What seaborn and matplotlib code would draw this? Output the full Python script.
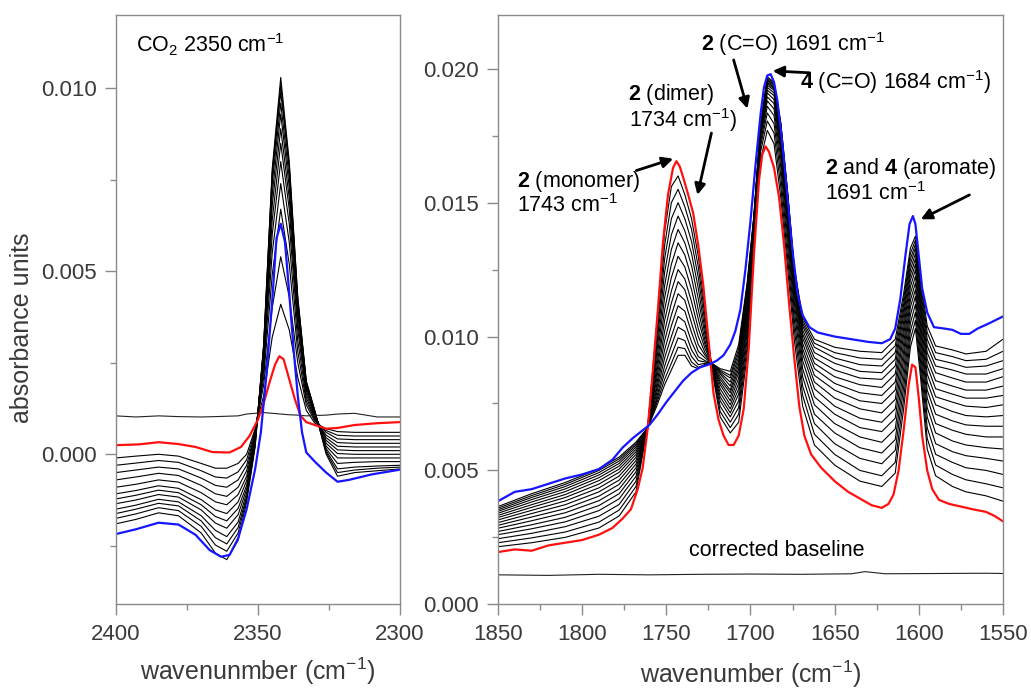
import numpy as np
import pandas as pd
import matplotlib
matplotlib.use("Agg")
import matplotlib.pyplot as plt
import seaborn as sns
from matplotlib.ticker import MultipleLocator, FormatStrFormatter

# ---------------- data (absorbance in units of 1e-3) ----------------
MILLI = 1e-3

# Left panel: CO2 region
left_wn = [2400, 2393, 2385, 2378, 2370, 2365, 2361, 2357, 2354, 2351, 2348,
           2345, 2342, 2339, 2336, 2333, 2330, 2326, 2322, 2316, 2308, 2300]
left_red_wn = [2400, 2392, 2385, 2378, 2372, 2366, 2360, 2356, 2353, 2350, 2348, 2346,
               2344, 2342.5, 2341, 2339, 2337, 2335, 2333, 2330, 2326, 2322, 2316, 2308, 2300]
left_red = [0.25, 0.27, 0.33, 0.28, 0.20, 0.06, 0.05, 0.20, 0.50, 0.95, 1.40, 1.95,
            2.45, 2.68, 2.60, 2.05, 1.50, 1.05, 0.88, 0.80, 0.70, 0.72, 0.80, 0.85, 0.88]
left_blue_wn = [2400, 2393, 2385, 2378, 2372, 2367, 2363, 2360, 2357, 2354, 2351, 2349,
                2347, 2345, 2343.5, 2342, 2340.5, 2339, 2337.5, 2336, 2334.5, 2333, 2330,
                2326, 2322, 2318, 2310, 2300]
left_blue = [-2.18, -2.05, -1.87, -1.92, -2.20, -2.62, -2.80, -2.75, -2.30, -1.50, -0.40, 0.60,
             2.20, 4.20, 5.90, 6.30, 5.80, 4.40, 2.90, 1.60, 0.60, 0.05, -0.20,
             -0.50, -0.75, -0.70, -0.55, -0.42]
left_baseline = [1.05, 1.02, 1.05, 1.03, 1.02, 1.03, 1.04, 1.05, 1.10, 1.12, 1.14,
                 1.12, 1.10, 1.08, 1.07, 1.05, 1.06, 1.07, 1.10, 1.12, 1.02, 1.02]
left_black = [
    [-0.10, -0.05, 0.00, -0.05, -0.25, -0.38, -0.38, -0.25, 0.00, 0.70, 1.60, 3.20, 4.10, 3.40, 2.10, 1.20, 0.85, 0.70, 0.62, 0.60, 0.60, 0.60],
    [-0.30, -0.24, -0.17, -0.22, -0.45, -0.62, -0.65, -0.48, -0.15, 0.65, 1.90, 4.00, 5.40, 4.30, 2.50, 1.35, 0.90, 0.65, 0.52, 0.50, 0.50, 0.50],
    [-0.50, -0.43, -0.35, -0.40, -0.65, -0.85, -0.90, -0.70, -0.30, 0.60, 2.10, 4.90, 6.70, 5.20, 2.80, 1.45, 0.95, 0.60, 0.42, 0.40, 0.40, 0.40],
    [-0.70, -0.62, -0.52, -0.58, -0.85, -1.08, -1.15, -0.90, -0.45, 0.55, 2.30, 5.50, 7.40, 5.80, 3.10, 1.55, 0.98, 0.52, 0.32, 0.30, 0.30, 0.30],
    [-0.90, -0.82, -0.70, -0.76, -1.05, -1.30, -1.38, -1.10, -0.60, 0.50, 2.45, 6.00, 8.00, 6.30, 3.40, 1.65, 1.02, 0.45, 0.22, 0.20, 0.20, 0.20],
    [-1.08, -0.99, -0.86, -0.93, -1.24, -1.52, -1.62, -1.30, -0.72, 0.45, 2.60, 6.40, 8.50, 6.70, 3.60, 1.75, 1.06, 0.38, 0.12, 0.10, 0.10, 0.10],
    [-1.22, -1.12, -0.98, -1.05, -1.38, -1.70, -1.82, -1.48, -0.85, 0.40, 2.70, 6.80, 8.90, 7.00, 3.80, 1.82, 1.10, 0.30, 0.02, 0.00, 0.00, 0.00],
    [-1.35, -1.25, -1.10, -1.17, -1.52, -1.88, -2.02, -1.65, -0.95, 0.36, 2.80, 7.10, 9.30, 7.30, 3.95, 1.88, 1.12, 0.22, -0.10, -0.10, -0.10, -0.10],
    [-1.50, -1.39, -1.23, -1.30, -1.68, -2.08, -2.25, -1.85, -1.05, 0.32, 2.90, 7.40, 9.60, 7.55, 4.10, 1.92, 1.14, 0.15, -0.25, -0.22, -0.20, -0.20],
    [-1.62, -1.50, -1.34, -1.41, -1.82, -2.28, -2.45, -2.00, -1.15, 0.28, 2.95, 7.60, 9.90, 7.80, 4.20, 1.96, 1.16, 0.10, -0.40, -0.35, -0.32, -0.30],
    [-1.75, -1.63, -1.46, -1.54, -1.97, -2.48, -2.65, -2.15, -1.22, 0.25, 3.00, 7.70, 10.10, 7.90, 4.25, 1.98, 1.18, 0.05, -0.50, -0.43, -0.38, -0.35],
    [-1.90, -1.78, -1.60, -1.68, -2.15, -2.70, -2.88, -2.35, -1.30, 0.20, 3.00, 7.80, 10.30, 8.00, 4.30, 2.00, 1.20, 0.00, -0.60, -0.50, -0.45, -0.40],
]

# Right panel: carbonyl / aromatic region
right_wn = [1850, 1830, 1810, 1790, 1778, 1768, 1761, 1756, 1751, 1747, 1743, 1739, 1735,
            1731, 1727, 1723, 1718, 1712, 1707, 1702, 1698, 1694, 1690, 1686, 1682, 1678,
            1674, 1669, 1662, 1650, 1635, 1622, 1614, 1609, 1605, 1602, 1599, 1595, 1590,
            1580, 1572, 1560, 1550]
right_red_wn = [1850, 1840, 1830, 1820, 1810, 1800, 1790, 1782, 1776, 1771, 1767, 1764, 1761,
                1758, 1755, 1752, 1749, 1746, 1744, 1742, 1740, 1737, 1734, 1731, 1728, 1725,
                1722, 1719, 1716, 1713, 1710, 1707, 1704, 1701, 1698, 1695, 1693, 1691, 1689,
                1686, 1683, 1680, 1677, 1674, 1671, 1668, 1664, 1658, 1650, 1642, 1635, 1628,
                1622, 1618, 1615, 1612, 1609, 1606, 1604, 1602, 1600, 1598, 1595, 1592, 1588,
                1582, 1575, 1568, 1560, 1555, 1550]
right_red = [1.95, 2.05, 2.00, 2.20, 2.30, 2.40, 2.60, 2.85, 3.20, 3.55, 4.30, 5.10, 6.60,
             8.70, 11.0, 13.5, 15.3, 16.3, 16.55, 16.35, 15.95, 15.3, 14.6, 13.4, 11.9, 9.9,
             7.9, 6.9, 6.3, 5.95, 5.95, 6.30, 7.30, 9.60, 13.0, 15.8, 16.8, 17.1, 16.9,
             16.3, 15.2, 13.4, 11.2, 9.2, 7.4, 6.3, 5.6, 5.1, 4.6, 4.2, 3.95, 3.7,
             3.6, 3.75, 4.1, 5.0, 6.5, 8.2, 8.95, 8.85, 7.7, 6.3, 5.0, 4.3, 3.9,
             3.75, 3.65, 3.55, 3.45, 3.30, 3.10]
right_blue_wn = [1850, 1840, 1830, 1820, 1810, 1800, 1790, 1782, 1776, 1770, 1765, 1760, 1755,
                 1750, 1745, 1740, 1735, 1730, 1725, 1720, 1716, 1712, 1709, 1706, 1703, 1700,
                 1697, 1694, 1692, 1690, 1688, 1686, 1684, 1681, 1678, 1675, 1672, 1669, 1665,
                 1660, 1650, 1640, 1630, 1622, 1617, 1614, 1611, 1608, 1605.5, 1603.5, 1602,
                 1600, 1598, 1595, 1591, 1585, 1580, 1575, 1570, 1565, 1558, 1550]
right_blue = [3.85, 4.20, 4.30, 4.50, 4.70, 4.85, 5.05, 5.40, 5.85, 6.20, 6.45, 6.70, 7.10,
              7.55, 7.95, 8.35, 8.65, 8.85, 8.95, 9.10, 9.30, 9.70, 10.2, 11.0, 12.5, 14.3,
              16.4, 18.3, 19.3, 19.75, 19.8, 19.5, 18.8, 17.2, 15.2, 13.2, 11.6, 10.8, 10.35,
              10.15, 10.0, 9.90, 9.80, 9.75, 9.90, 10.3, 11.4, 13.0, 14.2, 14.5, 14.2,
              13.0, 11.8, 10.9, 10.35, 10.3, 10.25, 10.1, 10.1, 10.3, 10.5, 10.75]
right_baseline_wn = [1850, 1820, 1790, 1760, 1730, 1700, 1670, 1640, 1632, 1620, 1590, 1560, 1550]
right_baseline = [1.10, 1.08, 1.12, 1.10, 1.12, 1.13, 1.12, 1.14, 1.22, 1.14, 1.15, 1.16, 1.15]
# one row per wavenumber (right_wn), one column per intermediate spectrum
right_black_rows = [
    [2.15, 2.30, 2.45, 2.60, 2.72, 2.84, 2.95, 3.05, 3.15, 3.24, 3.32, 3.40, 3.47, 3.53, 3.59, 3.65],
    [2.30, 2.48, 2.65, 2.82, 2.97, 3.12, 3.26, 3.39, 3.51, 3.62, 3.72, 3.82, 3.91, 3.99, 4.06, 4.13],
    [2.50, 2.70, 2.90, 3.08, 3.25, 3.42, 3.57, 3.72, 3.86, 3.99, 4.10, 4.21, 4.31, 4.40, 4.48, 4.55],
    [2.85, 3.07, 3.29, 3.50, 3.69, 3.87, 4.04, 4.20, 4.35, 4.49, 4.62, 4.73, 4.83, 4.92, 5.00, 5.06],
    [3.30, 3.52, 3.73, 3.94, 4.13, 4.31, 4.48, 4.64, 4.79, 4.93, 5.05, 5.16, 5.26, 5.35, 5.43, 5.50],
    [4.20, 4.40, 4.60, 4.78, 4.95, 5.10, 5.24, 5.37, 5.49, 5.60, 5.70, 5.79, 5.87, 5.94, 6.00, 6.06],
    [6.65, 6.64, 6.63, 6.62, 6.61, 6.60, 6.60, 6.60, 6.60, 6.60, 6.60, 6.60, 6.60, 6.60, 6.60, 6.60],
    [10.2, 9.95, 9.7, 9.45, 9.2, 8.95, 8.7, 8.5, 8.3, 8.1, 7.95, 7.8, 7.65, 7.55, 7.45, 7.35],
    [13.9, 13.4, 12.9, 12.4, 11.9, 11.45, 11.0, 10.6, 10.2, 9.85, 9.5, 9.2, 8.9, 8.65, 8.4, 8.2],
    [15.6, 15.0, 14.4, 13.8, 13.25, 12.7, 12.2, 11.7, 11.25, 10.8, 10.4, 10.0, 9.65, 9.3, 9.0, 8.75],
    [16.0, 15.5, 15.0, 14.5, 14.0, 13.5, 13.0, 12.5, 12.05, 11.6, 11.15, 10.75, 10.35, 9.95, 9.6, 9.3],
    [15.3, 14.85, 14.4, 13.95, 13.5, 13.05, 12.6, 12.15, 11.75, 11.35, 10.95, 10.55, 10.2, 9.85, 9.55, 9.3],
    [14.4, 14.0, 13.55, 13.1, 12.65, 12.2, 11.75, 11.3, 10.9, 10.5, 10.15, 9.8, 9.5, 9.25, 9.05, 8.9],
    [13.0, 12.6, 12.2, 11.8, 11.4, 11.0, 10.65, 10.3, 10.0, 9.7, 9.45, 9.25, 9.1, 8.95, 8.85, 8.8],
    [11.0, 10.75, 10.5, 10.25, 10.05, 9.85, 9.7, 9.55, 9.4, 9.3, 9.2, 9.1, 9.05, 9.0, 8.95, 8.95],
    [8.8, 8.85, 8.9, 8.9, 8.95, 8.95, 9.0, 9.0, 9.0, 9.0, 9.0, 9.0, 9.0, 9.0, 9.0, 9.0],
    [7.0, 7.2, 7.4, 7.6, 7.75, 7.9, 8.05, 8.2, 8.3, 8.4, 8.5, 8.6, 8.65, 8.7, 8.75, 8.8],
    [6.4, 6.6, 6.8, 7.0, 7.15, 7.3, 7.45, 7.6, 7.75, 7.9, 8.0, 8.15, 8.3, 8.45, 8.55, 8.7],
    [6.8, 7.1, 7.35, 7.6, 7.85, 8.05, 8.25, 8.45, 8.65, 8.8, 8.95, 9.1, 9.25, 9.4, 9.55, 9.7],
    [9.3, 9.6, 9.9, 10.15, 10.4, 10.6, 10.8, 11.0, 11.15, 11.3, 11.45, 11.6, 11.7, 11.8, 11.9, 12.0],
    [13.3, 13.5, 13.65, 13.8, 13.9, 14.0, 14.1, 14.15, 14.2, 14.25, 14.3, 14.35, 14.4, 14.45, 14.45, 14.5],
    [16.6, 16.9, 17.1, 17.25, 17.4, 17.5, 17.6, 17.65, 17.7, 17.75, 17.8, 17.85, 17.85, 17.9, 17.9, 17.9],
    [17.7, 18.05, 18.35, 18.6, 18.8, 18.95, 19.1, 19.2, 19.3, 19.38, 19.45, 19.5, 19.55, 19.6, 19.65, 19.7],
    [17.2, 17.6, 17.95, 18.25, 18.5, 18.7, 18.85, 19.0, 19.1, 19.2, 19.25, 19.3, 19.35, 19.4, 19.45, 19.5],
    [15.2, 15.6, 16.0, 16.35, 16.65, 16.9, 17.1, 17.3, 17.45, 17.6, 17.7, 17.8, 17.85, 17.9, 17.95, 18.0],
    [12.6, 13.0, 13.4, 13.75, 14.05, 14.3, 14.5, 14.7, 14.85, 15.0, 15.1, 15.2, 15.3, 15.35, 15.4, 15.45],
    [9.9, 10.3, 10.65, 11.0, 11.3, 11.55, 11.75, 11.95, 12.1, 12.2, 12.3, 12.4, 12.45, 12.5, 12.55, 12.6],
    [7.4, 7.8, 8.15, 8.5, 8.8, 9.1, 9.35, 9.55, 9.75, 9.95, 10.1, 10.25, 10.4, 10.5, 10.6, 10.7],
    [5.95, 6.35, 6.75, 7.1, 7.45, 7.75, 8.05, 8.3, 8.55, 8.8, 9.0, 9.2, 9.4, 9.6, 9.75, 9.9],
    [5.2, 5.6, 6.0, 6.4, 6.75, 7.1, 7.4, 7.7, 8.0, 8.25, 8.5, 8.75, 9.0, 9.2, 9.4, 9.6],
    [4.6, 5.0, 5.45, 5.85, 6.25, 6.6, 6.95, 7.3, 7.6, 7.9, 8.2, 8.45, 8.7, 8.95, 9.2, 9.45],
    [4.4, 4.8, 5.25, 5.65, 6.05, 6.45, 6.8, 7.15, 7.5, 7.8, 8.1, 8.4, 8.65, 8.9, 9.15, 9.4],
    [4.9, 5.3, 5.75, 6.15, 6.55, 6.95, 7.3, 7.65, 8.0, 8.3, 8.6, 8.9, 9.15, 9.4, 9.65, 9.9],
    [7.3, 7.7, 8.1, 8.45, 8.8, 9.15, 9.45, 9.75, 10.05, 10.3, 10.55, 10.8, 11.0, 11.2, 11.4, 11.6],
    [9.6, 9.9, 10.2, 10.5, 10.8, 11.1, 11.35, 11.6, 11.85, 12.1, 12.3, 12.5, 12.7, 12.9, 13.1, 13.3],
    [10.3, 10.6, 10.9, 11.2, 11.5, 11.75, 12.0, 12.25, 12.5, 12.7, 12.9, 13.1, 13.3, 13.45, 13.6, 13.75],
    [8.5, 8.8, 9.1, 9.4, 9.7, 10.0, 10.25, 10.5, 10.75, 11.0, 11.2, 11.4, 11.6, 11.8, 12.0, 12.2],
    [5.8, 6.2, 6.6, 7.0, 7.35, 7.7, 8.0, 8.3, 8.6, 8.9, 9.15, 9.4, 9.65, 9.9, 10.15, 10.4],
    [4.8, 5.2, 5.6, 6.0, 6.4, 6.75, 7.1, 7.45, 7.75, 8.05, 8.35, 8.65, 8.9, 9.15, 9.4, 9.65],
    [4.4, 4.85, 5.3, 5.7, 6.1, 6.5, 6.85, 7.2, 7.55, 7.85, 8.15, 8.45, 8.75, 9.0, 9.25, 9.5],
    [4.2, 4.65, 5.1, 5.55, 5.95, 6.35, 6.7, 7.05, 7.4, 7.7, 8.0, 8.3, 8.6, 8.85, 9.1, 9.35],
    [4.05, 4.5, 5.0, 5.45, 5.85, 6.25, 6.65, 7.0, 7.35, 7.7, 8.0, 8.3, 8.6, 8.9, 9.15, 9.45],
    [3.85, 4.35, 4.85, 5.35, 5.8, 6.25, 6.65, 7.05, 7.45, 7.8, 8.15, 8.5, 8.8, 9.1, 9.45, 9.9],
]
right_black = [list(col) for col in zip(*right_black_rows)]

# ---------------- style ----------------
sns.set_theme(style="white")
plt.rcParams["font.family"] = ["Liberation Sans", "DejaVu Sans"]
plt.rcParams["mathtext.fontset"] = "custom"
plt.rcParams["mathtext.rm"] = "Liberation Sans"
plt.rcParams["mathtext.it"] = "Liberation Sans:italic"
plt.rcParams["mathtext.bf"] = "Liberation Sans:bold"

SPINE = "#8a8a8a"
LABEL = "#3a3a3a"
RED = "#ff1010"
BLUE = "#1515ff"


def long_df(wn, curves):
    return pd.DataFrame({
        "wn": np.tile(np.asarray(wn, float), len(curves)),
        "absorb": np.concatenate([np.asarray(c, float) for c in curves]) * MILLI,
        "spec": np.repeat(np.arange(len(curves)), len(wn)),
    })


def draw(ax, wn, curves, color, lw):
    sns.lineplot(data=long_df(wn, curves), x="wn", y="absorb", units="spec",
                 estimator=None, sort=False, color=color, lw=lw, ax=ax, legend=False)


def style_axes(ax, xmaj, xmin, ymaj, ymin):
    for s in ax.spines.values():
        s.set_color(SPINE)
        s.set_linewidth(1.0)
    ax.xaxis.set_major_locator(MultipleLocator(xmaj))
    ax.xaxis.set_minor_locator(MultipleLocator(xmin))
    ax.yaxis.set_major_locator(MultipleLocator(ymaj))
    ax.yaxis.set_minor_locator(MultipleLocator(ymin))
    ax.yaxis.set_major_formatter(FormatStrFormatter("%.3f"))
    ax.tick_params(which="both", direction="out", bottom=True, left=True,
                   top=False, right=False, color=SPINE, width=1.0)
    ax.tick_params(which="major", length=8, labelsize=16, labelcolor=LABEL, pad=6)
    ax.tick_params(which="minor", length=4)


fig = plt.figure(figsize=(10.31, 6.93), dpi=100)
axL = fig.add_axes([0.1125, 0.128, 0.2755, 0.850])
axR = fig.add_axes([0.483, 0.128, 0.4898, 0.850])

# ----- left panel -----
draw(axL, left_wn, left_black, "black", 0.8)
draw(axL, left_wn, [left_baseline], "#222222", 0.8)
draw(axL, left_red_wn, [left_red], RED, 1.6)
draw(axL, left_blue_wn, [left_blue], BLUE, 1.6)
axL.set_xlim(2400, 2300)
axL.set_ylim(-0.0041, 0.012)
style_axes(axL, 50, 25, 0.005, 0.0025)
axL.set_xlabel("wavenunmber (cm$^{-1}$)", fontsize=18, color=LABEL, labelpad=8)
axL.set_ylabel("absorbance units", fontsize=18, color=LABEL)
axL.yaxis.set_label_coords(-0.29, 0.47)
axL.text(0.07, 0.95, "CO$_2$ 2350 cm$^{-1}$", transform=axL.transAxes,
         fontsize=15.5, ha="left", va="center", color="black")

# ----- right panel -----
draw(axR, right_wn, right_black, "black", 0.8)
draw(axR, right_baseline_wn, [right_baseline], "#222222", 0.8)
draw(axR, right_red_wn, [right_red], RED, 1.6)
draw(axR, right_blue_wn, [right_blue], BLUE, 1.6)
axR.set_xlim(1850, 1550)
axR.set_ylim(0.0, 0.022)
style_axes(axR, 50, 25, 0.005, 0.0025)
axR.set_xlabel("wavenumber (cm$^{-1}$)", fontsize=18, color=LABEL, labelpad=10)
axR.set_ylabel("")

FS = 15.5
txt = dict(fontsize=FS, ha="left", va="center", color="black")
axR.text(1729.4, 0.02092, r"$\mathbf{2}$ (C=O) 1691 cm$^{-1}$", **txt)
axR.text(1670.6, 0.01950, r"$\mathbf{4}$ (C=O) 1684 cm$^{-1}$)", **txt)
axR.text(1772.5, 0.01905, r"$\mathbf{2}$ (dimer)", **txt)
axR.text(1772.2, 0.01807, r"1734 cm$^{-1}$)", **txt)
axR.text(1838.7, 0.01579, r"$\mathbf{2}$ (monomer)", **txt)
axR.text(1838.7, 0.01489, r"1743 cm$^{-1}$", **txt)
axR.text(1655.7, 0.01628, r"$\mathbf{2}$ and $\mathbf{4}$ (aromate)", **txt)
axR.text(1655.7, 0.01534, r"1691 cm$^{-1}$", **txt)
axR.text(1736.5, 0.00202, "corrected baseline", **txt)

arrow = dict(arrowstyle="-|>", color="black", lw=2.0, mutation_scale=16,
             shrinkA=0, shrinkB=0)
for tail, head in [((1710.0, 0.02033), (1701.8, 0.01851)),
                   ((1664.8, 0.01985), (1686.8, 0.01992)),
                   ((1723.2, 0.01760), (1731.5, 0.01529)),
                   ((1767.8, 0.01620), (1745.9, 0.01664)),
                   ((1569.9, 0.01529), (1598.8, 0.01438))]:
    axR.annotate("", xy=head, xytext=tail, arrowprops=arrow)

fig.savefig("out.png", dpi=100)
